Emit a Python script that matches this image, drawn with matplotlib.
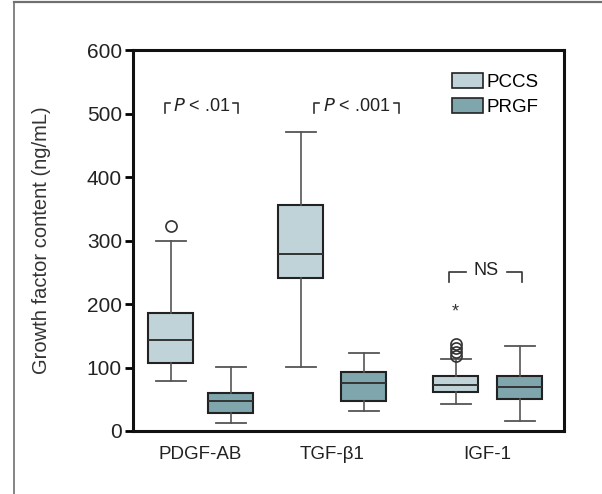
import matplotlib
matplotlib.use("Agg")
import matplotlib.pyplot as plt
from matplotlib.lines import Line2D

plt.rcParams['font.family'] = ['Liberation Sans', 'DejaVu Sans']

# ---- data ----
categories = ["PDGF-AB", "TGF-\u03b21", "IGF-1"]
series = ["PCCS", "PRGF"]
# order: PDGF PCCS, PDGF PRGF, TGF PCCS, TGF PRGF, IGF PCCS, IGF PRGF
q1 = [107, 28, 241, 48, 62, 50]
median = [143, 47, 279, 75, 73, 69]
q3 = [186, 60, 356, 93, 86, 87]
whislo = [78, 13, 101, 32, 42, 15]
whishi = [300, 101, 471, 123, 113, 134]
outliers = [[323], [], [], [], [137, 130, 124, 118], []]
extreme_outliers = [[], [], [], [], [191], []]
yticks = [0, 100, 200, 300, 400, 500, 600]
annotations = ["P < .01", "P < .001", "NS"]

colors = {"PCCS": "#bfd3d8", "PRGF": "#7fa6ad"}
positions = [37.5, 97.5, 167.5, 230.5, 322.5, 386.5]
group_centers = [67.5, 199, 354.5]

fig = plt.figure(figsize=(6.02, 4.94), dpi=100)
ax = fig.add_axes([133/602, 1-431/494, 431/602, 381/494])

stats = []
for i in range(6):
    stats.append(dict(med=median[i], q1=q1[i], q3=q3[i], whislo=whislo[i],
                      whishi=whishi[i], fliers=outliers[i]))

bp = ax.bxp(stats, positions=positions, widths=45, capwidths=30, patch_artist=True,
            manage_ticks=False,
            boxprops=dict(edgecolor="#222222", linewidth=1.5),
            medianprops=dict(color="#333333", linewidth=1.4),
            whiskerprops=dict(color="#555555", linewidth=1.2),
            capprops=dict(color="#555555", linewidth=1.3),
            flierprops=dict(marker="o", markersize=8, markerfacecolor="none",
                            markeredgecolor="#333333", markeredgewidth=1.2))
for i, b in enumerate(bp["boxes"]):
    b.set_facecolor(colors[series[i % 2]])

for i, ex in enumerate(extreme_outliers):
    for v in ex:
        ax.text(positions[i], v - 4, "*", ha="center", va="center", fontsize=13, color="#333333")

ax.set_xlim(0, 431)
ax.set_ylim(0, 600)
ax.set_yticks(yticks)
ax.set_yticklabels([str(t) for t in yticks], fontsize=15, color="#222222")
ax.set_xticks(group_centers)
ax.set_xticklabels(categories, fontsize=13.5, color="#222222")
ax.tick_params(axis="x", length=0, pad=11)
ax.tick_params(axis="y", length=6, width=2, pad=2)
for s in ax.spines.values():
    s.set_linewidth(2.2)
    s.set_color("#111111")
ax.set_ylabel("Growth factor content (ng/mL)", fontsize=14.5, color="#333333", labelpad=26)

# significance brackets
def bracket(x0, x1, ytop, ybot, gap0=None, gap1=None):
    kw = dict(color="#333333", lw=1.2)
    if gap0 is None:
        ax.plot([x0, x0, x0 + 5], [ybot, ytop, ytop], **kw)
        ax.plot([x1 - 5, x1, x1], [ytop, ytop, ybot], **kw)
    else:
        ax.plot([x0, x0, gap0], [ybot, ytop, ytop], **kw)
        ax.plot([gap1, x1, x1], [ytop, ytop, ybot], **kw)

bracket(32, 105, 517, 501)
ax.text(69, 511, r"$\it{P}$" + " < .01", ha="center", va="center", fontsize=13, color="#222222")
bracket(181, 266, 517, 501)
ax.text(224, 511, r"$\it{P}$" + " < .001", ha="center", va="center", fontsize=13, color="#222222")
bracket(316, 389, 250, 234, gap0=333, gap1=374)
ax.text(353.5, 253, annotations[2], ha="center", va="center", fontsize=13, color="#222222")

# legend
handles = [plt.Rectangle((0, 0), 1, 1, facecolor=colors[s], edgecolor="#222222", linewidth=1.2) for s in series]
ax.legend(handles, series, loc="upper right", bbox_to_anchor=(0.958, 0.96), frameon=False,
          handlelength=1.7, handleheight=0.85, handletextpad=0.15, labelspacing=0.4,
          fontsize=13.5, borderaxespad=0)

# outer frame lines (top and left)
fig.add_artist(Line2D([14/602, 1], [1-2.5/494, 1-2.5/494], color="#707070", lw=1.6, transform=fig.transFigure))
fig.add_artist(Line2D([14/602, 14/602], [0, 1-2.5/494], color="#707070", lw=1.2, transform=fig.transFigure))

fig.savefig("out.png", dpi=100)
